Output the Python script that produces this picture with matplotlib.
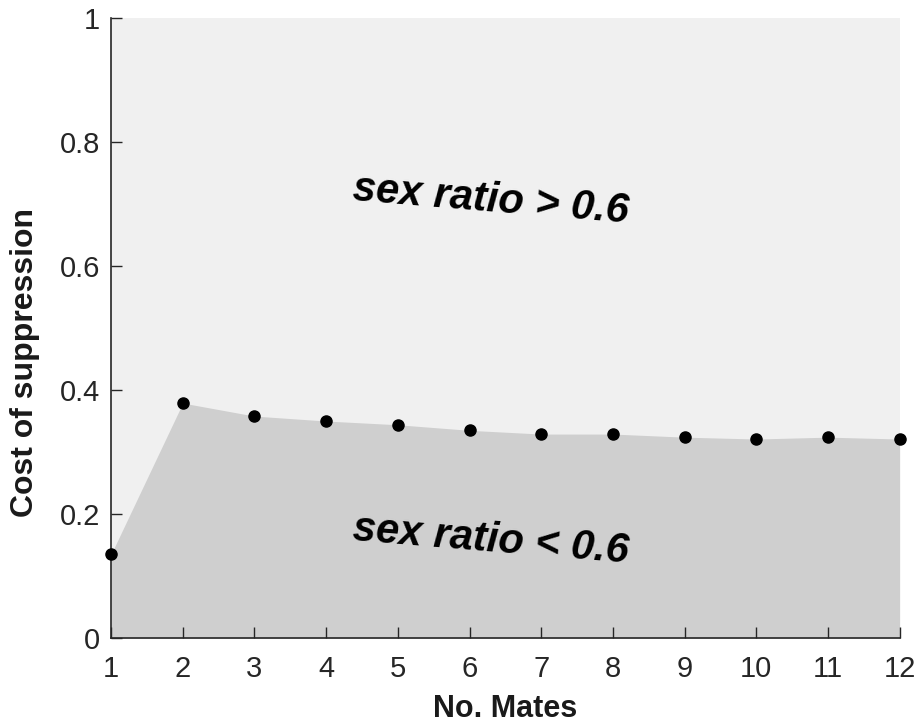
import numpy as np
import matplotlib.pyplot as plt

plt.rcParams['font.family'] = ['Liberation Sans', 'DejaVu Sans']

# Threshold cost of suppression vs number of mates
mates = [1, 2, 3, 4, 5, 6, 7, 8, 9, 10, 11, 12]
cost = [0.135, 0.379, 0.358, 0.350, 0.344, 0.335, 0.329, 0.329, 0.324, 0.321, 0.324, 0.321]

fig = plt.figure(figsize=(9.18, 7.22), dpi=100)
ax = fig.add_axes([0.121, 0.1163, 0.859, 0.8587])

ax.set_facecolor('#f0f0f0')
ax.fill_between(mates, 0, cost, color='#cfcfcf', linewidth=0, zorder=1)
ax.plot(mates, cost, 'o', color='black', markersize=8, zorder=3, clip_on=False)

ax.text(0.482, 0.706, 'sex ratio > 0.6', transform=ax.transAxes, fontsize=30,
        fontweight='bold', fontstyle='italic', rotation=-4.7,
        ha='center', va='center')
ax.text(0.482, 0.158, 'sex ratio < 0.6', transform=ax.transAxes, fontsize=30,
        fontweight='bold', fontstyle='italic', rotation=-4.7,
        ha='center', va='center')

ax.set_xlim(1, 12)
ax.set_ylim(0, 1)
ax.set_xticks(mates)
ax.set_yticks([0, 0.2, 0.4, 0.6, 0.8, 1])
ax.set_yticklabels(['0', '0.2', '0.4', '0.6', '0.8', '1'])

for side in ['top', 'right']:
    ax.spines[side].set_visible(False)
for side in ['left', 'bottom']:
    ax.spines[side].set_color('#262626')
    ax.spines[side].set_linewidth(1.2)
ax.tick_params(direction='in', length=8, width=1, colors='#262626', labelsize=21)
ax.tick_params(axis='x', pad=12)
ax.tick_params(axis='y', pad=8)

ax.set_xlabel('No. Mates', fontsize=22, fontweight='bold', labelpad=8, color='#1a1a1a')
ax.set_ylabel('Cost of suppression', fontsize=23, fontweight='bold', color='#1a1a1a')
ax.yaxis.set_label_coords(-0.09, 0.444)

fig.savefig('out.png', dpi=100)
